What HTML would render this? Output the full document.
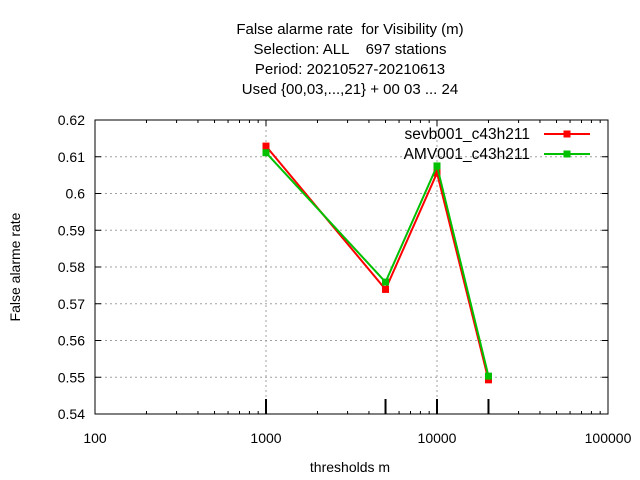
<!DOCTYPE html>
<html><head><meta charset="utf-8"><style>
body{margin:0;background:#fff;}
svg{display:block;font-family:"Liberation Sans",sans-serif;}
text{white-space:pre;}
</style></head><body>
<svg id="chart" width="640" height="480">
<g id="title" font-size="15" text-anchor="middle" fill="#000">
<text x="350" y="34">False alarme rate  for Visibility (m)</text>
<text x="350" y="54">Selection: ALL    697 stations</text>
<text x="350" y="74">Period: 20210527-20210613</text>
<text x="350" y="94">Used {00,03,...,21} + 00 03 ... 24</text>
</g>
<g id="grid"></g><g id="axes"></g><g id="series"></g>
<text x="350" y="472" font-size="14" text-anchor="middle">thresholds m</text>
<text transform="translate(20,267) rotate(-90)" font-size="14" text-anchor="middle">False alarme rate</text>
<g id="legend" font-size="15.5"></g>
</svg>
<script>
const thresholds=[1000,5000,10000,20000];
const sevbValues=[0.6129,0.5739,0.6056,0.5493];
const amvValues=[0.6111,0.5759,0.6075,0.5503];
const seriesNames=["sevb001_c43h211","AMV001_c43h211"];
const yTicks=[0.54,0.55,0.56,0.57,0.58,0.59,0.6,0.61,0.62];
const yTickLabels=["0.54","0.55","0.56","0.57","0.58","0.59","0.6","0.61","0.62"];
const xTicks=[100,1000,10000,100000];
const xTickLabels=["100","1000","10000","100000"];
const L=95,R=608,T=120,B=414;
const NS="http://www.w3.org/2000/svg";
function xs(v){return L+(Math.log10(v)-2)/3*(R-L);}
function ys(v){return B-(v-0.54)/0.08*(B-T);}
function mk(tag,attrs,parent){const e=document.createElementNS(NS,tag);for(const k in attrs)e.setAttribute(k,attrs[k]);parent.appendChild(e);return e;}
const grid=document.getElementById('grid'),axes=document.getElementById('axes'),ser=document.getElementById('series'),leg=document.getElementById('legend');
yTicks.forEach((t,i)=>{
 const y=ys(t);
 if(i>0&&i<yTicks.length-1){const g=mk('line',{x1:L,x2:R,y1:y,y2:y,stroke:'#a0a0a0','stroke-dasharray':'2,3'},grid);
 
 }
 mk('line',{x1:L,x2:L+6,y1:y,y2:y,stroke:'#000'},axes);
 mk('line',{x1:R,x2:R-6,y1:y,y2:y,stroke:'#000'},axes);
 const tx=mk('text',{x:L-10,y:y+5,'text-anchor':'end','font-size':14},axes);
 tx.textContent=yTickLabels[i];
 
 
});
xTicks.forEach((t,i)=>{
 const x=xs(t);
 if(i>0&&i<xTicks.length-1){const g=mk('line',{x1:x,x2:x,y1:T,y2:B,stroke:'#a0a0a0','stroke-dasharray':'2,3'},grid);
 
 }
 mk('line',{x1:x,x2:x,y1:B,y2:B-6,stroke:'#000'},axes);
 mk('line',{x1:x,x2:x,y1:T,y2:T+6,stroke:'#000'},axes);
 const tx=mk('text',{x:x,y:B+29,'text-anchor':'middle','font-size':14},axes);
 tx.textContent=xTickLabels[i];
 
 
 if(i<xTicks.length-1){for(let m=2;m<10;m++){const mx=xs(t*m);
  mk('line',{x1:mx,x2:mx,y1:B,y2:B-3,stroke:'#000'},axes);
  mk('line',{x1:mx,x2:mx,y1:T,y2:T+3,stroke:'#000'},axes);}}
});
thresholds.forEach(t=>{const x=xs(t);const k=mk('line',{x1:x,x2:x,y1:B,y2:B-15,stroke:'#000','stroke-width':2},axes);
 
 });
const frame=mk('rect',{x:L,y:T,width:R-L,height:B-T,fill:'none',stroke:'#000'},axes);


function drawSeries(vals,color,name,ly){
 const pts=thresholds.map((t,i)=>xs(t)+','+ys(vals[i])).join(' ');
 const pl=mk('polyline',{points:pts,fill:'none',stroke:color,'stroke-width':2},ser);
 
 
 thresholds.forEach((t,i)=>{const r=mk('rect',{x:xs(t)-3.5,y:ys(vals[i])-3.5,width:7,height:7,fill:color},ser);
  
  });
 const tx=mk('text',{x:530,y:ly+5,'text-anchor':'end'},leg);
 tx.textContent=name;
 
 
 const ln=mk('line',{x1:544,x2:590,y1:ly,y2:ly,stroke:color,'stroke-width':2},leg);
 
 
 mk('rect',{x:563.5,y:ly-3.5,width:7,height:7,fill:color},leg);
}
drawSeries(sevbValues,'#ff0000',seriesNames[0],134);
drawSeries(amvValues,'#00c000',seriesNames[1],154);
</script>
</body></html>
